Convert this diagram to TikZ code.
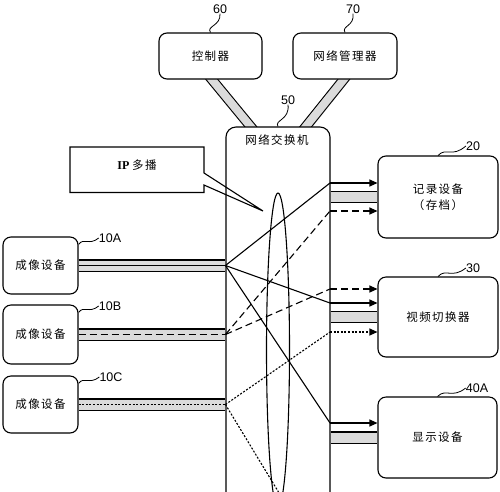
\documentclass[tikz,border=0pt]{standalone}
\usepackage{fontspec}
\setmainfont{Liberation Sans}
\newfontfamily\mycjk[LetterSpace=12]{Noto Sans CJK SC}
\newfontfamily\myipfont{Liberation Serif}
\newcommand\cjkf{\mycjk\fontsize{11.5}{16}\selectfont}
\newcommand\numf{\fontsize{12.5}{15}\selectfont}
\usetikzlibrary{arrows.meta}
\begin{document}
\begin{tikzpicture}[x=1pt,y=-1pt,
  box/.style={draw, line width=1.1pt, rounded corners=8pt, inner sep=0pt, fill=white, font=\cjkf, align=center},
  lbl/.style={font=\numf, inner sep=0pt},
  tilde/.style={line width=0.8pt},
  band/.style={line width=1.1pt, double=black!14, double distance=10pt},
  sband/.style={line width=1.1pt, double=black!14, double distance=8pt},
  solidln/.style={line width=1.1pt},
  dashln/.style={line width=1.1pt, dash pattern=on 7pt off 4pt},
  dotln/.style={line width=1.1pt, dash pattern=on 2pt off 1.6pt},
  arr/.style={-{Triangle[length=8pt,width=7pt]}}
]
\useasboundingbox (0,0) rectangle (500,491);
\clip (0,0) rectangle (500,491);

% coordinates at switch top for slanted bands
\coordinate (s1) at (251,127);
\coordinate (s2) at (305.5,127);
\coordinate (n1) at (211.5,79);
\coordinate (n2) at (344,79);
\draw[sband, shorten <=-7pt, shorten >=-7pt] (n1) -- (s1);
\draw[sband, shorten <=-7pt, shorten >=-7pt] (n2) -- (s2);

% main boxes
\node[box, rounded corners=10pt, minimum width=104pt, minimum height=420pt] (sw) at (278,337) {};
\node[font=\cjkf, inner sep=0pt] (swt) at (277,140) {网络交换机};
\node[box, minimum width=103pt, minimum height=46pt] (ctrl) at (210.5,56) {控制器};
\node[box, minimum width=104pt, minimum height=46pt] (nm) at (345,56) {网络管理器};

\node[box, minimum width=75pt, minimum height=57pt] (ca) at (40.5,265.5) {成像设备};
\node[box, minimum width=75pt, minimum height=59pt] (cb) at (40.5,334.5) {成像设备};
\node[box, minimum width=75pt, minimum height=57pt] (cc) at (40.5,404.5) {成像设备};

\node[box, minimum width=120pt, minimum height=82pt] (rec) at (438,197) {记录设备\\（存档）};
\node[box, minimum width=120pt, minimum height=80pt] (vs) at (438,317) {视频切换器};
\node[box, minimum width=119pt, minimum height=81pt] (disp) at (437.5,437.5) {显示设备};

% camera bands
\draw[band] (ca.east) -- (ca.east -| sw.west);
\draw[solidln] (ca.east) -- (ca.east -| sw.west);
\draw[band] (cb.east) -- (cb.east -| sw.west);
\draw[dashln] (cb.east) -- (cb.east -| sw.west);
\draw[band] (cc.east) -- (cc.east -| sw.west);
\draw[dotln] (cc.east) -- (cc.east -| sw.west);

% output bands
\draw[band] (rec.west -| sw.east) -- (rec.west);
\draw[band] (vs.west -| sw.east) -- (vs.west);
\draw[band] (disp.west -| sw.east) -- (disp.west);

% ellipse (multicast)
\draw[line width=1.1pt] (278,350) ellipse [x radius=11.5pt, y radius=157pt];

% switch points
\coordinate (pa) at (ca.east -| sw.west);
\coordinate (pb) at (cb.east -| sw.west);
\coordinate (pc) at (cc.east -| sw.west);
\coordinate (r1) at (330,183);
\coordinate (r2) at (330,211);
\coordinate (v1) at (330,289);
\coordinate (v2) at (330,303);
\coordinate (v3) at (330,332);
\coordinate (d1) at (330,423);
\coordinate (tail) at (290,511);

% cross connections
\draw[solidln] (pa) -- (r1);
\draw[solidln] (pa) -- (v2);
\draw[solidln] (pa) -- (d1);
\draw[dashln] (pb) -- (r2);
\draw[dashln] (pb) -- (v1);
\draw[dotln] (pc) -- (v3);
\draw[dotln] (pc) -- (tail);

% arrows
\draw[solidln, arr] (r1) -- (r1 -| rec.west);
\draw[dashln, arr] (r2) -- (r2 -| rec.west);
\draw[dashln, arr] (v1) -- (v1 -| vs.west);
\draw[solidln, arr] (v2) -- (v2 -| vs.west);
\draw[dotln, arr] (v3) -- (v3 -| vs.west);
\draw[solidln, arr] (d1) -- (d1 -| disp.west);

% callout
\draw[line width=1.1pt, line join=miter] (70,147) -- (204,147) -- (204,173) -- (263,211) -- (204,185) -- (204,192.5) -- (70,192.5) -- cycle;
\node[inner sep=0pt] (ip) at (137,165) {{\myipfont\bfseries\fontsize{12}{14}\selectfont IP} {\cjkf 多播}};

% reference labels
\node[lbl] (l60) at (220,9) {60};
\node[lbl] (l70) at (353,9) {70};
\node[lbl] (l50) at (288,100) {50};
\node[lbl] (l20) at (473,146) {20};
\node[lbl] (l30) at (473,268) {30};
\node[lbl] (l40) at (477,388) {40A};
\node[lbl] (l10a) at (110,238) {10A};
\node[lbl] (l10b) at (110,306) {10B};
\node[lbl] (l10c) at (111,377) {10C};

\draw[tilde] (ctrl.north) .. controls (206,26) and (221,26) .. (l60.south);
\draw[tilde] (nm.north) .. controls (341,26) and (355,26) .. (l70.south);
\draw[tilde] (sw.north) .. controls (274,120) and (290,120) .. (l50.south);
\draw[tilde] (rec.north) .. controls (446,147) and (452,158) .. (l20.west);
\draw[tilde] (vs.north) .. controls (446,268) and (452,279) .. (l30.west);
\draw[tilde] (disp.north) .. controls (446,388) and (452,399) .. (l40.west);
\draw[tilde] ([yshift=-8pt]ca.north east) .. controls (84,237) and (89,246) .. (l10a.west);
\draw[tilde] ([yshift=-8pt]cb.north east) .. controls (84,305) and (89,314) .. (l10b.west);
\draw[tilde] ([yshift=-8pt]cc.north east) .. controls (84,376) and (89,385) .. (l10c.west);
\end{tikzpicture}
\end{document}
